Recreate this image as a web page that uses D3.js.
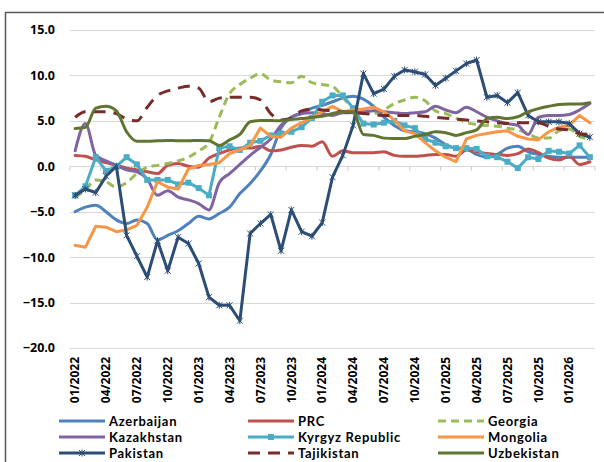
<!DOCTYPE html>
<html>
<head>
<meta charset="utf-8">
<script src="https://cdn.jsdelivr.net/npm/d3@7"></script>
<style>
  html, body { margin: 0; padding: 0; background: #ffffff; }
  svg { display: block; }
  text { font-family: "Open Sans", Lato, sans-serif; font-weight: bold; fill: #000; }
  text.leg { font-family: Lato, "Open Sans", sans-serif; letter-spacing: 0.7px; }
</style>
</head>
<body>
<svg id="chart" width="604" height="462"></svg>
<script>
// ---------------- DATA ----------------
const categories = [
  "01/2022","02/2022","03/2022","04/2022","05/2022","06/2022","07/2022","08/2022","09/2022","10/2022","11/2022","12/2022",
  "01/2023","02/2023","03/2023","04/2023","05/2023","06/2023","07/2023","08/2023","09/2023","10/2023","11/2023","12/2023",
  "01/2024","02/2024","03/2024","04/2024","05/2024","06/2024","07/2024","08/2024","09/2024","10/2024","11/2024","12/2024",
  "01/2025","02/2025","03/2025","04/2025","05/2025","06/2025","07/2025","08/2025","09/2025","10/2025","11/2025","12/2025",
  "01/2026","02/2026","03/2026"
];
const tickLabels = ["01/2022","04/2022","07/2022","10/2022","01/2023","04/2023","07/2023","10/2023","01/2024",
  "04/2024","07/2024","10/2024","01/2025","04/2025","07/2025","10/2025","01/2026"];
const yTicks = [-20, -15, -10, -5, 0, 5, 10, 15];

const azerbaijan = [-5.0,-4.5,-4.3,-5.0,-5.9,-6.3,-5.9,-6.3,-8.1,-7.6,-7.1,-6.3,-5.5,-5.8,-5.2,-4.5,-3.0,-1.9,-0.5,1.3,
  4.2,5.4,5.8,6.4,6.7,7.1,7.5,7.7,7.4,6.6,5.4,4.5,3.9,3.8,3.6,3.1,2.4,2.0,1.9,1.3,1.0,1.3,2.0,2.2,1.6,1.3,1.1,1.0,1.0,1.0,1.0];
const prc = [1.2,1.1,0.7,0.4,0.1,-0.2,-0.4,-0.6,-0.8,0.1,0.3,0.0,-0.1,0.9,1.4,1.8,2.0,2.0,2.2,1.7,
  1.8,2.1,2.3,2.2,2.7,1.1,1.7,1.5,1.5,1.5,1.6,1.2,1.1,1.1,1.2,1.3,1.3,1.1,1.8,1.6,1.4,1.3,1.2,1.4,1.9,1.5,0.9,0.7,1.1,0.2,0.5];
const georgia = [-3.4,-2.6,-1.5,-1.7,-2.3,-1.8,-0.8,-0.1,0.1,0.3,0.6,1.0,1.7,2.6,5.4,8.0,9.0,9.7,10.2,9.5,
  9.3,9.2,9.9,9.2,9.0,8.8,7.6,6.3,5.8,5.8,6.2,6.9,7.3,7.6,7.2,6.1,5.8,5.3,4.8,4.6,4.5,4.4,4.2,4.0,3.6,3.1,3.1,3.9,4.1,3.3,3.0];
const kazakhstan = [1.7,4.7,1.2,0.6,0.1,-0.4,-0.6,-1.4,-3.2,-2.7,-3.4,-3.7,-4.1,-4.8,-1.8,-0.8,0.2,1.2,2.1,3.0,
  4.5,5.4,5.8,5.9,5.8,5.6,5.9,5.9,6.0,6.1,6.0,5.9,5.8,5.9,6.0,6.6,6.2,5.9,6.5,6.0,5.4,5.0,4.7,4.5,3.5,5.4,5.6,5.6,5.7,6.2,6.9];
const kyrgyz = [-3.2,-2.2,1.0,-0.5,0.0,1.0,0.2,-1.5,-1.5,-1.5,-2.0,-1.8,-2.4,-3.2,2.0,2.2,1.8,2.6,2.8,3.4,
  3.6,3.8,4.3,5.3,7.1,7.8,7.8,6.4,4.7,4.6,4.8,5.0,4.5,4.2,3.0,2.6,2.2,2.0,2.0,1.9,1.1,1.0,0.5,-0.2,1.0,0.8,1.7,1.6,1.4,2.3,1.0];
const mongolia = [-8.7,-8.9,-6.6,-6.7,-7.2,-7.0,-6.5,-4.5,-1.7,-2.3,-2.5,-0.3,0.1,0.2,0.4,1.4,1.8,2.3,4.2,3.3,
  3.2,4.2,4.8,5.3,6.0,6.6,6.0,6.2,6.3,6.5,6.0,5.1,3.9,3.6,2.6,1.7,1.0,0.5,3.0,3.4,3.6,3.8,3.9,3.3,3.0,2.9,3.8,4.3,4.5,5.6,4.8];
const pakistan = [-3.2,-2.5,-2.9,-1.1,0.0,-7.6,-9.9,-12.2,-8.2,-11.5,-7.8,-8.5,-10.7,-14.4,-15.3,-15.3,-17.0,-7.4,-6.3,-5.3,
  -9.3,-4.8,-7.2,-7.7,-6.2,-1.2,1.2,4.5,10.2,8.0,8.5,9.9,10.6,10.4,10.1,8.9,9.7,10.5,11.3,11.7,7.6,7.8,7.0,8.1,5.6,4.9,4.9,4.9,4.7,3.6,3.2];
const tajikistan = [5.4,6.0,6.0,6.0,5.8,5.2,5.0,6.5,7.8,8.3,8.6,8.8,8.6,7.1,7.5,7.6,7.6,7.6,7.3,5.8,
  5.1,5.3,6.1,6.3,6.2,6.1,6.0,5.9,5.8,5.7,5.6,5.6,5.6,5.6,5.5,5.4,5.3,5.2,5.1,5.0,4.9,4.8,4.7,4.8,4.8,4.8,4.4,4.1,4.0,3.6,3.5];
const uzbekistan = [4.15,4.3,6.4,6.6,6.1,3.8,2.75,2.75,2.8,2.85,2.8,2.8,2.85,2.8,2.3,2.9,3.5,4.9,5.05,5.05,
  5.0,5.15,5.25,5.4,5.5,5.8,6.0,6.0,3.5,3.4,3.1,3.05,3.05,3.3,3.5,3.8,3.7,3.4,3.7,4.0,5.25,5.4,5.25,5.45,6.0,6.35,6.6,6.8,6.85,6.85,7.0];

const seriesNames = ["Azerbaijan","PRC","Georgia","Kazakhstan","Kyrgyz Republic","Mongolia","Pakistan","Tajikistan","Uzbekistan"];
const seriesValues = [azerbaijan, prc, georgia, kazakhstan, kyrgyz, mongolia, pakistan, tajikistan, uzbekistan];

// ---------------- STYLE ----------------
const styles = {
  "Azerbaijan":      {color: "#4F81BD", dash: null,   smooth: true,  marker: null},
  "PRC":             {color: "#C0504D", dash: null,   smooth: true,  marker: null},
  "Georgia":         {color: "#9BBB59", dash: "8,5",  smooth: true,  marker: null},
  "Kazakhstan":      {color: "#8064A2", dash: null,   smooth: true,  marker: null},
  "Kyrgyz Republic": {color: "#4BACC6", dash: null,   smooth: false, marker: "square"},
  "Mongolia":        {color: "#F79646", dash: null,   smooth: false, marker: null},
  "Pakistan":        {color: "#2C4D75", dash: null,   smooth: false, marker: "star"},
  "Tajikistan":      {color: "#772C2A", dash: "12,8", smooth: true,  marker: null},
  "Uzbekistan":      {color: "#5F7530", dash: null,   smooth: true,  marker: null}
};

const svg = d3.select("#chart");
const plot = {left: 70, right: 595, top: 30, bottom: 348};

// frame
svg.append("rect").attr("x", 5.5).attr("y", 12.5).attr("width", 605).attr("height", 460)
  .attr("fill", "none").attr("stroke", "#595959").attr("stroke-width", 1.5);

const x = d3.scalePoint().domain(d3.range(categories.length)).range([plot.left, plot.right]).padding(0.5);
const step = x.step();
const y = d3.scaleLinear().domain([-20, 15]).range([plot.bottom, plot.top]);

// gridlines
svg.append("g").selectAll("line").data(yTicks).join("line")
  .attr("x1", plot.left).attr("x2", plot.right)
  .attr("y1", d => Math.round(y(d)) + 0.5).attr("y2", d => Math.round(y(d)) + 0.5)
  .attr("stroke", "#D9D9D9").attr("stroke-width", 1.2);

// y axis labels
svg.append("g").selectAll("text").data(yTicks).join("text")
  .attr("x", 55).attr("y", d => y(d)).attr("dy", "0.35em")
  .attr("text-anchor", "end").attr("font-size", 12.5)
  .text(d => d3.format(".1f")(d));

// x axis at zero with tick marks at category boundaries every 3 categories
const y0 = Math.round(y(0)) + 0.5;
const tickIdx = d3.range(0, categories.length + 1, 3);
svg.append("g").selectAll("line").data(tickIdx).join("line")
  .attr("x1", d => plot.left + d * step).attr("x2", d => plot.left + d * step)
  .attr("y1", y0).attr("y2", y0 + 4)
  .attr("stroke", "#D0D0D0").attr("stroke-width", 1.2);

// x labels
svg.append("g").selectAll("text").data(tickLabels).join("text")
  .attr("transform", d => `translate(${x(categories.indexOf(d))},357) rotate(-90)`)
  .attr("dy", "0.35em").attr("text-anchor", "end").attr("font-size", 12)
  .text(d => d);

// lines
const starPath = "M-3,-3L3,3M-3,3L3,-3M0,-3.5L0,3.5";
seriesNames.forEach((name, k) => {
  const st = styles[name];
  const vals = seriesValues[k];
  const line = d3.line().x((d, i) => x(i)).y(d => y(d))
    .curve(st.smooth ? d3.curveMonotoneX : d3.curveLinear);
  svg.append("path").datum(vals).attr("d", line)
    .attr("fill", "none").attr("stroke", st.color).attr("stroke-width", 3)
    .attr("stroke-linejoin", "round").attr("stroke-linecap", st.dash ? "butt" : "round")
    .attr("stroke-dasharray", st.dash);
  if (st.marker === "square") {
    svg.append("g").selectAll("rect").data(vals).join("rect")
      .attr("x", (d, i) => x(i) - 3).attr("y", d => y(d) - 3)
      .attr("width", 6).attr("height", 6).attr("fill", st.color);
  } else if (st.marker === "star") {
    svg.append("g").selectAll("path").data(vals).join("path")
      .attr("transform", (d, i) => `translate(${x(i)},${y(d)})`)
      .attr("d", starPath).attr("stroke", st.color).attr("stroke-width", 1).attr("fill", "none");
  }
});

// legend
const legCols = [59, 248, 438], legRows = [421, 437, 453], legLen = 46;
const leg = svg.append("g").selectAll("g").data(seriesNames).join("g")
  .attr("transform", (d, i) => `translate(${legCols[i % 3]},${legRows[Math.floor(i / 3)]})`);
leg.append("line").attr("x1", 0).attr("x2", legLen).attr("y1", 0).attr("y2", 0)
  .attr("stroke", d => styles[d].color).attr("stroke-width", 3)
  .attr("stroke-dasharray", d => styles[d].dash);
leg.filter(d => styles[d].marker === "square").append("rect")
  .attr("x", legLen / 2 - 3).attr("y", -3).attr("width", 6).attr("height", 6)
  .attr("fill", d => styles[d].color);
leg.filter(d => styles[d].marker === "star").append("path")
  .attr("transform", `translate(${legLen / 2},0)`).attr("d", starPath)
  .attr("stroke", d => styles[d].color).attr("stroke-width", 1).attr("fill", "none");
leg.append("text").attr("class", "leg").attr("x", legLen + 4).attr("y", 0).attr("dy", "0.35em")
  .attr("font-size", 13).text(d => d);
</script>
</body>
</html>
